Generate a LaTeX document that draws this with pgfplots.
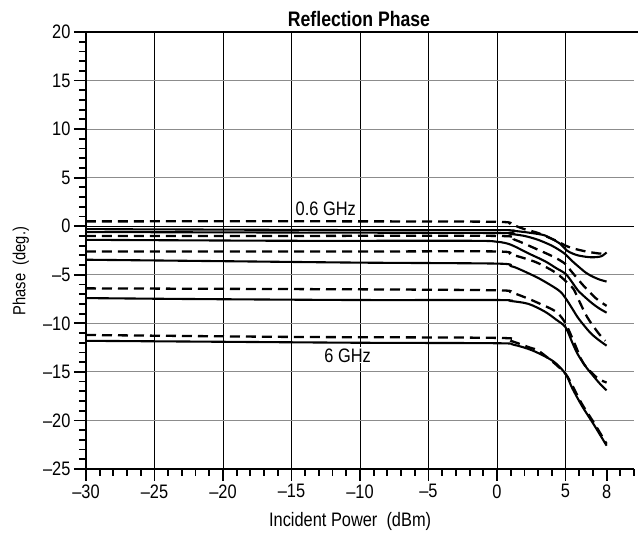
\documentclass[border=0pt]{standalone}
\usepackage{fontspec}
\setmainfont{Liberation Sans}[FakeStretch=0.84]
\usepackage{pgfplots}
\pgfplotsset{compat=1.18}
\newcommand{\chfont}{\fontsize{19.5}{22}\selectfont}
\begin{document}
\begin{tikzpicture}
\useasboundingbox (-86pt,-66pt) rectangle (552pt,469pt);
\begin{axis}[
  at={(0,0)}, anchor=south west,
  width=548pt, height=437pt, scale only axis,
  xmin=-30, xmax=10, ymin=-25, ymax=20,
  axis x line*=bottom, axis y line*=left,
  axis line style={line width=1.4pt},
  xtick={-30,-25,...,5},
  xticklabels={–30,–25,–20,–15,–10,–5,0,5},
  extra x ticks={8}, extra x tick labels={8},
  extra x tick style={grid=none},
  minor xtick={-29,-28,...,10},
  ytick={-25,-20,...,20},
  yticklabels={–25,–20,–15,–10,–5,0,5,10,15,20},
  minor ytick={-24,-23,...,19},
  tick align=outside,
  major tick length=12pt, minor tick length=7pt,
  tick style={line width=1.8pt, black},
  xmajorgrids, ymajorgrids,
  major x grid style={black, line width=0.9pt},
  major y grid style={black!45, line width=0.9pt},
  tick label style={font=\chfont},
  xlabel={Incident Power\ \ (dBm)},
  ylabel={Phase\ \ (deg.)},
  label style={font=\chfont},
  xlabel style={at={(axis description cs:0.482,-0.121)}, anchor=center},
  ylabel style={at={(axis description cs:-0.119,0.453)}, anchor=center, font=\fontsize{17.5}{20}\selectfont},
  solid curve/.style={black, line width=2.1pt, smooth},
  dashed curve/.style={black, line width=2.3pt, smooth, dash pattern=on 10pt off 6pt},
]
\draw[black, line width=1.1pt] (axis cs:-30,0) -- (axis cs:10,0);
\draw[black, line width=1.8pt] (axis cs:5,20) -- (axis cs:5,15.8);

% solid curves
\addplot[solid curve] coordinates {(-30,-0.3) (-20,-0.35) (-10,-0.4) (0,-0.4) (1,-0.45) (2,-0.6) (3,-0.8) (3.5,-0.95) (4,-1.3) (4.6,-1.8) (5.1,-2.5) (5.5,-2.8) (5.9,-3.0) (6.5,-3.15) (7,-3.2) (7.6,-3.1) (8,-2.7)};
\addplot[solid curve] coordinates {(-30,-0.6) (-15,-0.65) (0,-0.7) (1,-0.8) (2,-1.0) (3,-1.4) (4,-2.0) (4.6,-2.5) (5,-2.9) (5.5,-3.6) (5.9,-4.1) (6.5,-4.8) (7,-5.2) (7.5,-5.5) (8,-5.7)};
\addplot[solid curve] coordinates {(-30,-1.4) (-15,-1.5) (-2,-1.5) (0,-1.6) (1,-1.9) (2.3,-2.8) (3.5,-3.6) (4.3,-4.3) (5,-4.9) (5.5,-5.8) (5.9,-6.6) (6.5,-7.4) (7,-8.0) (7.5,-8.5) (8,-8.9)};
\addplot[solid curve] coordinates {(-30,-3.45) (-20,-3.6) (-10,-3.75) (0,-3.85) (1,-4.1) (1.6,-4.4) (3.1,-5.4) (4.5,-6.6) (5,-7.4) (5.5,-8.5) (5.9,-9.4) (6.4,-10.3) (6.9,-11.1) (7.5,-11.8) (8,-12.3)};
\addplot[solid curve] coordinates {(-30,-7.4) (-22,-7.5) (-10,-7.6) (0,-7.6) (1,-7.7) (2.3,-8.0) (3.5,-8.8) (4.3,-9.6) (5,-10.4) (5.5,-12.0) (5.9,-13.2) (6.5,-14.5) (6.9,-15.2) (7.5,-16.2) (8,-16.9)};
\addplot[solid curve] coordinates {(-30,-11.8) (-20,-11.9) (-10,-12.0) (0,-12.05) (1.2,-12.2) (2.6,-12.8) (4.1,-13.9) (5,-15.2) (5.5,-16.7) (6.2,-18.5) (7.1,-20.5) (8,-22.6)};

% dashed curves
\addplot[dashed curve] coordinates {(-30,0.5) (-10,0.5) (0,0.45) (1,0.2) (2,-0.3) (3,-0.7) (4,-1.3) (4.5,-1.6) (5,-2.0) (5.6,-2.3) (6.5,-2.6) (7.4,-2.8) (7.7,-2.8)};
\addplot[dashed curve] coordinates {(-30,-1.0) (-15,-1.0) (0,-1.0) (1.3,-1.4) (2.8,-2.3) (4.2,-3.2) (5,-3.9) (5.4,-4.6) (6.3,-6.1) (7.2,-7.4) (8,-8.2)};
\addplot[dashed curve] coordinates {(-30,-2.6) (-10,-2.6) (0,-2.6) (1,-2.9) (2,-3.3) (3,-3.8) (4.3,-4.8) (5.2,-5.9) (5.6,-6.5) (6.0,-7.7) (6.6,-9.4) (7.4,-11.0) (7.9,-11.8)};
\addplot[dashed curve] coordinates {(-30,-6.4) (-10,-6.5) (0,-6.6) (1,-6.8) (2,-7.3) (3,-7.9) (4.3,-8.8) (5,-10.0) (5.7,-12.2) (6.3,-14.1) (7.3,-15.6) (8,-16.1)};
\addplot[dashed curve] coordinates {(-30,-11.2) (-15,-11.4) (0,-11.5) (1,-11.8) (2.4,-12.5) (3,-12.8) (4.1,-14.0) (5,-15.2) (5.5,-16.4) (6.2,-18.3) (7.1,-20.3) (8,-22.4)};

\node[font=\chfont, fill=white, inner sep=1pt] at (axis cs:-12.5,1.75) {0.6 GHz};
\node[font=\chfont, fill=white, inner sep=1pt] at (axis cs:-10.9,-13.3) {6 GHz};
\end{axis}
\draw[line width=2pt] (0,437pt) -- (552pt,437pt);
\node[font=\fontsize{21}{24}\selectfont\bfseries, anchor=base] at (273pt,442pt) {Reflection Phase};
\end{tikzpicture}
\end{document}
